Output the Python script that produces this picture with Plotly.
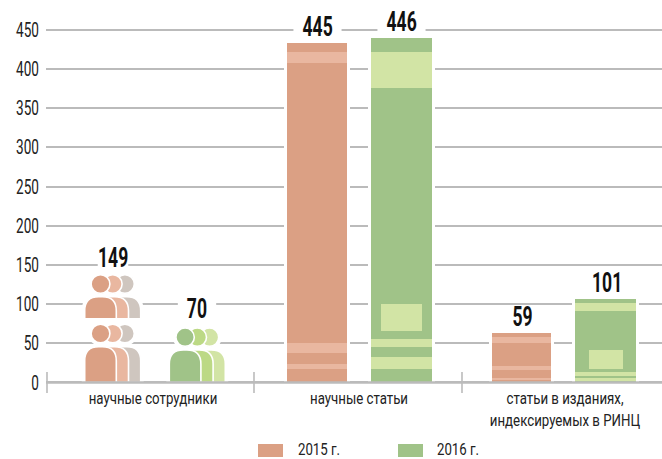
import plotly.graph_objects as go

FONT = "Roboto"
# ---- data
categories = ["научные сотрудники", "научные статьи", "статьи в изданиях,<br>индексируемых в РИНЦ"]
years = ["2015 г.", "2016 г."]
staff = [149, 70]
articles = [445, 446]
rinc = [59, 101]
y_ticks = [0, 50, 100, 150, 200, 250, 300, 350, 400, 450]

# stacked stripes, bottom to top, alternating dark / light
articles_2015_parts = [17.2, 6.4, 14, 12.8, 357, 14, 11.5]
articles_2016_parts = [17.6, 15, 12.8, 10.2, 320, 46, 18]
rinc_2015_parts = [3.5, 2.5, 9.8, 5.5, 29, 7.3, 5.5]
rinc_2016_parts = [2, 4, 2.3, 4.6, 77.7, 10.2, 5.1]
# lighter inset blocks: [start, size]
articles_2016_inset = [65.7, 34.4]
rinc_2016_inset = [17, 24.2]

# ---- styles / layout
DARK = {"o": "#dba084", "g": "#a0c388"}
LIGHT = {"o": "#e9b7a0", "g": "#d2e4a5"}
THIRD = {"o": "#cfc6bf", "g": "#d2e4a5"}
SECOND = {"o": "#e9b7a0", "g": "#bcd985"}
GRID = "#bbbbbb"
PX = 0.784  # plot pixels per unit

centers = [317, 401.5, 521.5, 605.5]
widths = [60, 61, 59, 61]
inset_x = [401.5, 606]
inset_w = [41, 34]
cat_x = [153, 359, 565]

fig = go.Figure()

all_parts = [(articles_2015_parts, "o"), (articles_2016_parts, "g"),
             (rinc_2015_parts, "o"), (rinc_2016_parts, "g")]

# white halo interrupting the grid lines beside every bar
fig.add_trace(go.Bar(x=centers, y=[sum(p) for p, _ in all_parts], width=[w + 6 for w in widths],
                     marker=dict(color="white", line_width=0), showlegend=False, hoverinfo="skip"))

for (parts, key), cx, w in zip(all_parts, centers, widths):
    base = 0
    xs, bases, ys, cols = [], [], [], []
    for i, v in enumerate(parts):
        xs.append(cx); bases.append(base); ys.append(v)
        cols.append(DARK[key] if i % 2 == 0 else LIGHT[key])
        base += v
    fig.add_trace(go.Bar(x=xs, y=ys, base=bases, width=w, marker=dict(color=cols, line_width=0),
                         showlegend=False, hoverinfo="skip"))

fig.add_trace(go.Bar(x=inset_x, y=[articles_2016_inset[1], rinc_2016_inset[1]],
                     base=[articles_2016_inset[0], rinc_2016_inset[0]], width=inset_w,
                     marker=dict(color=LIGHT["g"], line_width=0), showlegend=False, hoverinfo="skip"))

shapes = []


def px2val(p):
    return p / PX


def person(x0, bottom, body_w, body_h, head_r, head_gap, color, halo):
    """One pictogram; x0 in axis units, sizes in plot pixels converted to value units."""
    x1 = x0 + body_w
    r = 14
    yb = bottom
    yt = bottom + px2val(body_h)
    ry = px2val(r)
    path = (f"M {x0},{yb} L {x0},{yt - ry} Q {x0},{yt} {x0 + r},{yt} L {x1 - r},{yt} "
            f"Q {x1},{yt} {x1},{yt - ry} L {x1},{yb} Z")
    cx = (x0 + x1) / 2
    cy = yt + px2val(head_gap + head_r)
    line = dict(color="white", width=6 if halo else 1.6)
    fill = "white" if halo else color
    shapes.append(dict(type="path", path=path, xref="x", yref="y", fillcolor=fill, line=line, layer="above"))
    shapes.append(dict(type="circle", xref="x", yref="y", x0=cx - head_r, x1=cx + head_r,
                       y0=cy - px2val(head_r), y1=cy + px2val(head_r), fillcolor=fill, line=line, layer="above"))


def person_group(x0, bottom, body_h, head_r, head_gap, key):
    step = 12.2
    cols = [THIRD[key], SECOND[key], DARK[key]]
    for halo in (True, False):
        for k, c in enumerate(cols):
            person(x0 + (2 - k) * step, bottom, 31.6, body_h, head_r, head_gap, c, halo)


# staff pictograms: upper row is cut at its feet by the gap above the lower row
person_group(84.7, px2val(382.5 - 318.7), 22, 9.4, 3.3, "o")
person_group(84.7, 0, 35.8, 9.4, 3.8, "o")
person_group(169.3, 0, 32.5, 9.2, 3.6, "g")

# baseline and separators
shapes.append(dict(type="line", xref="x", yref="y", x0=46, x1=662, y0=0, y1=0,
                   line=dict(color=GRID, width=2.5), layer="above"))
for sx in [47, 254, 462]:
    shapes.append(dict(type="line", xref="x", yref="y", x0=sx, x1=sx, y0=-13.4, y1=13.4,
                       line=dict(color=GRID, width=1.6), layer="above"))

# legend swatches
for lx, c in zip([258, 398], [DARK["o"], DARK["g"]]):
    shapes.append(dict(type="rect", xref="x", yref="paper", x0=lx, x1=lx + 25,
                       y0=(393 - 457) / 393, y1=(393 - 444) / 393, fillcolor=c, line_width=0))

# value labels
pad = "\u00a0"
label_x = [112.5, 197, 317, 401, 522, 607]
label_y = [px2val(382.5 - 273.5), px2val(382.5 - 325), sum(articles_2015_parts), sum(articles_2016_parts),
           sum(rinc_2015_parts), sum(rinc_2016_parts)]
label_pad = [0, 2, 2, 2, 0, 0]
label_bg = ["white", "white", "white", "white", "rgba(0,0,0,0)", "rgba(0,0,0,0)"]
label_txt = staff + [articles[0], articles[1], rinc[0], rinc[1]]
ann = []
for x, y, t, p, bg in zip(label_x, label_y, label_txt, label_pad, label_bg):
    ann.append(dict(x=x, y=y, xref="x", yref="y", yanchor="bottom", yshift=1, showarrow=False,
                    height=28, valign="middle",
                    text=f"<b>{pad * p}{t}{pad * p}</b>", bgcolor=bg, borderpad=0,
                    font=dict(family=FONT, size=27, color="#111111")))
for lx, t in zip([319, 458], years):
    ann.append(dict(x=lx, y=(393 - 449) / 393, xref="x", yref="paper", xanchor="center", yanchor="middle",
                    showarrow=False, text=t, font=dict(family=FONT, size=17, color="#222222")))

fig.update_layout(
    width=662, height=459, autosize=False, barmode="overlay", bargap=0,
    paper_bgcolor="white", plot_bgcolor="white",
    margin=dict(l=46, r=0, t=0, b=66),
    shapes=shapes, annotations=ann, showlegend=False,
    xaxis=dict(range=[46, 662], tickmode="array", tickvals=cat_x, ticktext=categories,
               showgrid=False, zeroline=False, showline=False, ticks="", ticklen=0,
               ticklabeloverflow="allow", ticklabelstandoff=-7,
               tickfont=dict(family=FONT, size=17, color="#222222"), fixedrange=True),
    yaxis=dict(range=[-13.4, 487.9], tickmode="array", tickvals=y_ticks, showgrid=True,
               gridcolor=GRID, gridwidth=2, zeroline=False, showline=False, ticks="",
               ticklabelstandoff=6,
               tickfont=dict(family=FONT, size=20, color="#222222"), fixedrange=True),
)

# The reference face is a condensed one; no condensed face is installed, so the text is
# narrowed horizontally once it has been drawn.
NARROW = """
document.body.style.margin='0';document.documentElement.style.overflow='hidden';
function squeeze(el,s,ax){
  var t=el.getAttribute('transform')||'';
  el.setAttribute('transform',t+' translate('+ax+',0) scale('+s+',1) translate('+(-ax)+',0)');
}
function mid(b){return b.x+b.width/2;}
document.querySelectorAll('.ytick text').forEach(function(e){var b=e.getBBox();squeeze(e,0.68,b.x+b.width);});
document.querySelectorAll('.xtick text').forEach(function(e){squeeze(e,0.78,mid(e.getBBox()));});
document.querySelectorAll('.annotation').forEach(function(a){
  var txt=a.querySelector('text'),bg=a.querySelector('rect.bg');
  var s=txt.textContent.indexOf('г')>=0?0.78:0.65;
  var c=mid(bg.getBBox());
  squeeze(txt,s,c);squeeze(bg,s,c);
});
"""
fig.write_html("out.html", config={"displayModeBar": False}, post_script=NARROW)
